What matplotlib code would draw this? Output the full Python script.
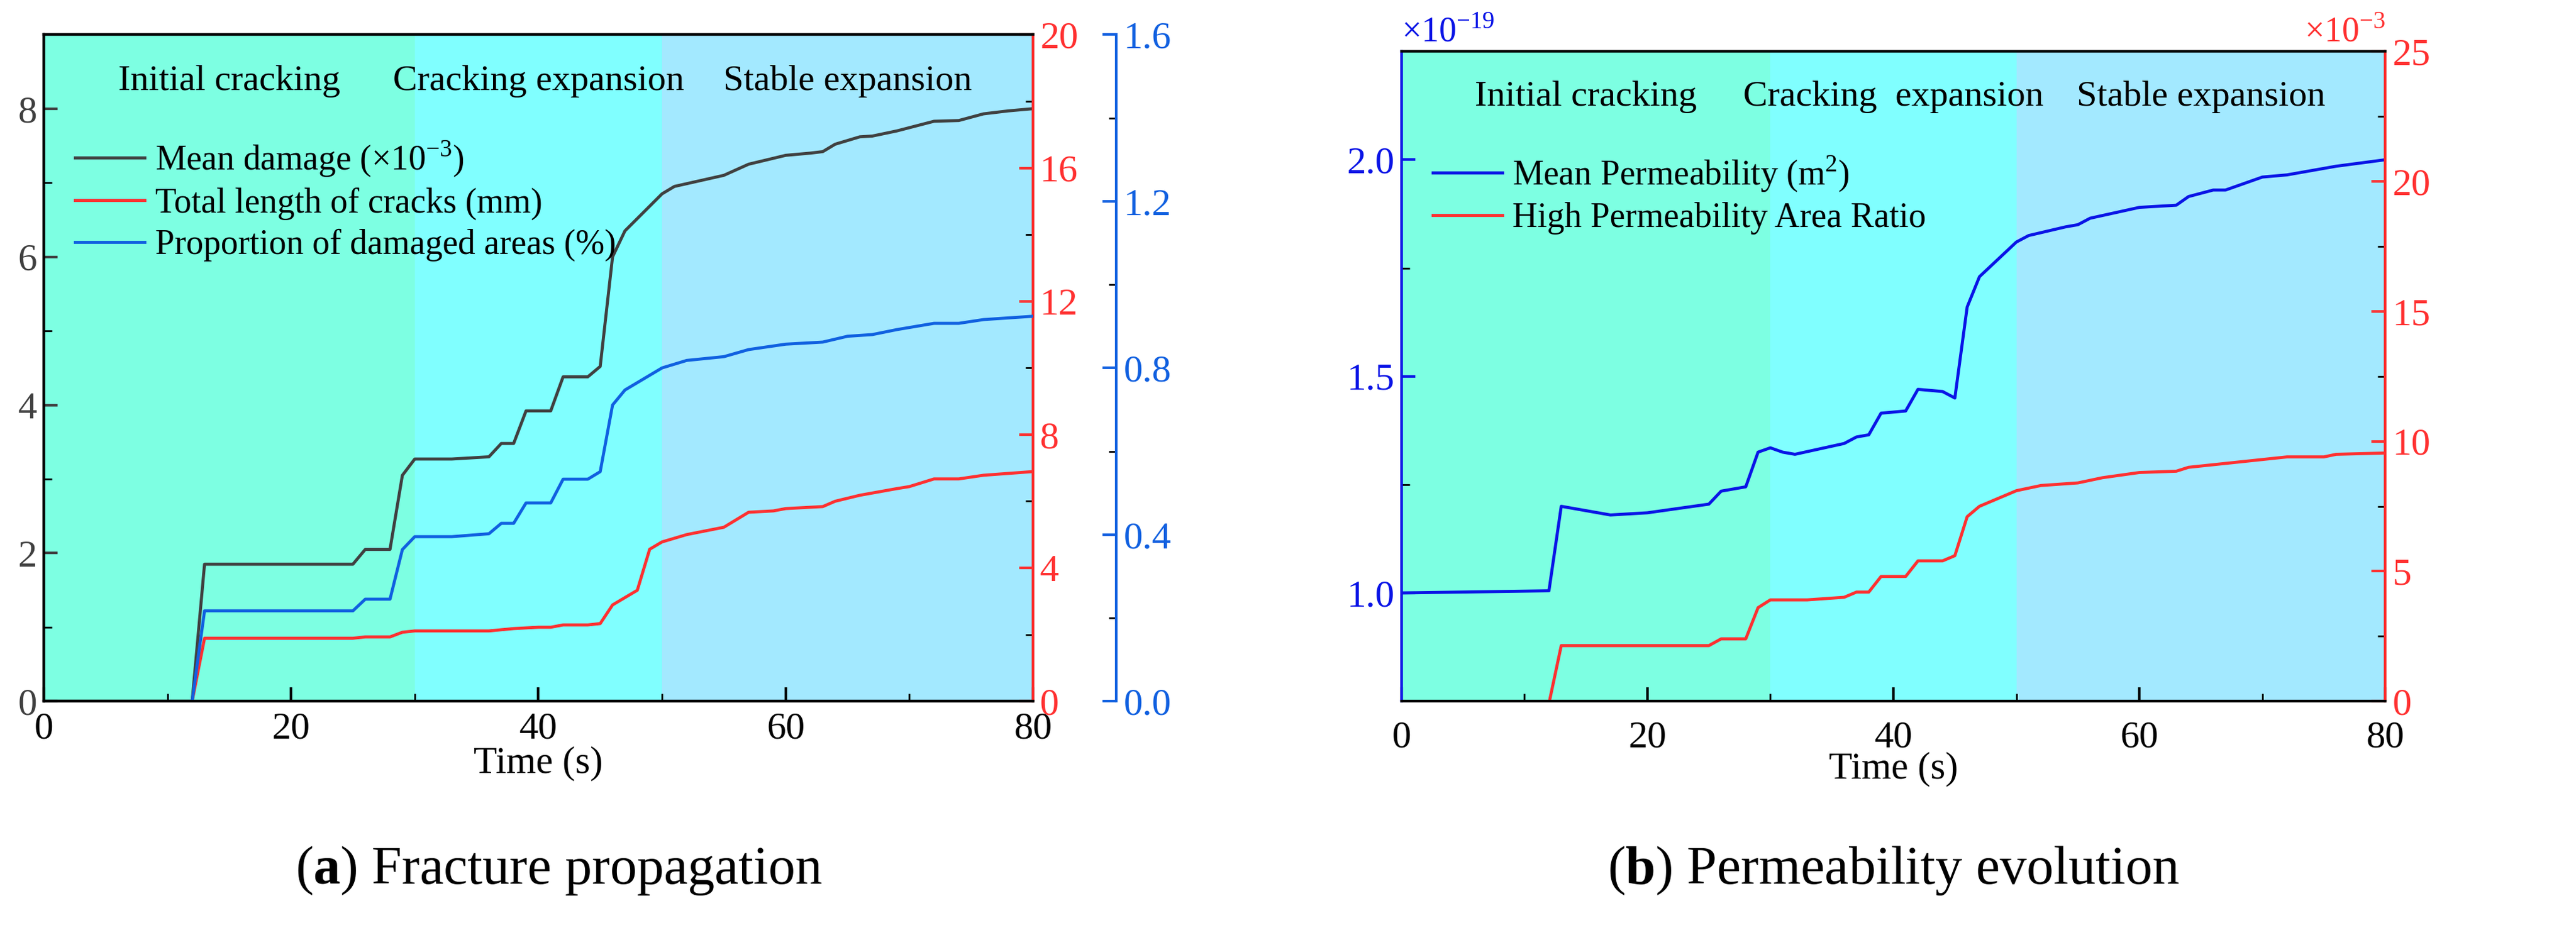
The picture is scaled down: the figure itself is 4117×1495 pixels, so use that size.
import numpy as np
import matplotlib.pyplot as plt
from matplotlib.ticker import MultipleLocator

plt.rcParams['font.family'] = ['Liberation Serif', 'DejaVu Serif']
plt.rcParams['mathtext.fontset'] = 'custom'
plt.rcParams['mathtext.rm'] = 'Liberation Serif'
plt.rcParams['mathtext.bf'] = 'Liberation Serif:bold'
plt.rcParams['font.size'] = 44

# --- (a) fracture propagation ---
t_dmg = [0, 12, 13, 25, 26, 28, 29, 30, 33, 36, 37, 38, 39, 41, 42, 44, 45, 46, 47, 50,
         51, 55, 57, 60, 62, 63, 64, 66, 67, 69, 72, 74, 76, 78, 80]
mean_damage = [0, 0, 1.85, 1.85, 2.05, 2.05, 3.05, 3.27, 3.27, 3.3, 3.48, 3.48, 3.92, 3.92,
               4.38, 4.38, 4.52, 6.0, 6.35, 6.85, 6.95, 7.1, 7.25, 7.37, 7.4, 7.42, 7.52,
               7.62, 7.63, 7.7, 7.83, 7.84, 7.93, 7.97, 8.0]

t_area = [12, 13, 25, 26, 28, 29, 30, 33, 36, 37, 38, 39, 41, 42, 44, 45, 46, 47, 50, 52,
          55, 57, 60, 63, 65, 67, 69, 72, 74, 76, 80]
damaged_area = [0, 0.217, 0.217, 0.245, 0.245, 0.364, 0.395, 0.395, 0.402, 0.427, 0.427,
                0.476, 0.476, 0.533, 0.533, 0.551, 0.711, 0.747, 0.8, 0.818, 0.827, 0.844,
                0.857, 0.862, 0.876, 0.88, 0.892, 0.907, 0.907, 0.916, 0.924]

t_len = [12, 13, 25, 26, 28, 29, 30, 36, 38, 40, 41, 42, 44, 45, 46, 48, 49, 50, 52, 55,
         57, 59, 60, 63, 64, 66, 69, 70, 72, 74, 76, 80]
crack_length = [0, 1.89, 1.89, 1.93, 1.93, 2.07, 2.11, 2.11, 2.18, 2.22, 2.22, 2.29, 2.29,
                2.33, 2.89, 3.33, 4.56, 4.78, 5.0, 5.22, 5.67, 5.71, 5.78, 5.84, 6.0, 6.18,
                6.38, 6.44, 6.67, 6.67, 6.78, 6.89]

# --- (b) permeability evolution ---
t_perm = [0, 12, 13, 17, 20, 25, 26, 28, 29, 30, 31, 32, 36, 37, 38, 39, 41, 42, 44, 45,
          46, 47, 50, 51, 54, 55, 56, 60, 63, 64, 66, 67, 69, 70, 72, 74, 76, 80]
mean_perm = [1.0, 1.005, 1.2, 1.18, 1.185, 1.205, 1.235, 1.245, 1.325, 1.335, 1.325, 1.32,
             1.345, 1.36, 1.365, 1.415, 1.42, 1.47, 1.465, 1.45, 1.66, 1.73, 1.81, 1.825,
             1.845, 1.85, 1.865, 1.89, 1.895, 1.915, 1.93, 1.93, 1.95, 1.96, 1.965, 1.975,
             1.985, 2.0]

t_ratio = [11.5, 13, 25, 26, 28, 29, 30, 33, 36, 37, 38, 39, 41, 42, 44, 45, 46, 47, 50, 52,
           55, 57, 60, 63, 64, 66, 70, 72, 75, 76, 80]
high_ratio = [-1.2, 2.14, 2.14, 2.4, 2.4, 3.6, 3.9, 3.9, 4.0, 4.2, 4.2, 4.8, 4.8, 5.4, 5.4,
              5.6, 7.1, 7.5, 8.1, 8.3, 8.4, 8.6, 8.8, 8.85, 9.0, 9.1, 9.3, 9.4, 9.4, 9.5, 9.55]

stages = ['Initial cracking', 'Cracking expansion', 'Stable expansion']
stage_edges = [0, 30, 50, 80]
stage_colors = ['#7dffe2', '#80ffff', '#a3e9ff']

fig = plt.figure(figsize=(41.17, 14.95), dpi=100)


def shade(ax, labels):
    for i in range(3):
        ax.axvspan(stage_edges[i], stage_edges[i + 1], color=stage_colors[i], lw=0, zorder=0)
        ax.text((stage_edges[i] + stage_edges[i + 1]) / 2, 0.93, labels[i],
                transform=ax.get_xaxis_transform(), ha='center', va='center', fontsize=42)


def style(ax):
    ax.tick_params(direction='in', length=16, width=3, which='major')
    ax.tick_params(direction='in', length=9, width=2, which='minor')
    for s in ax.spines.values():
        s.set_linewidth(3)


# (a)
ax1 = fig.add_axes([0.017, 0.25, 0.384, 0.713])
shade(ax1, stages)
ax1.plot(t_dmg, mean_damage, color='#404040', lw=3.5)
ax1.set_xlim(0, 80)
ax1.set_ylim(0, 9)
ax1.xaxis.set_major_locator(MultipleLocator(20))
ax1.xaxis.set_minor_locator(MultipleLocator(10))
ax1.yaxis.set_major_locator(MultipleLocator(2))
ax1.yaxis.set_minor_locator(MultipleLocator(1))
ax1.set_xlabel('Time (s)', fontsize=44, labelpad=0)
ax1.tick_params(axis='x', pad=12)
ax1.tick_params(axis='y', colors='#404040', labelcolor='#404040', pad=8)
style(ax1)

ax2 = ax1.twinx()
ax2.plot(t_len, crack_length, color='#ff3030', lw=3.5)
ax2.set_ylim(0, 20)
ax2.yaxis.set_major_locator(MultipleLocator(4))
ax2.yaxis.set_minor_locator(MultipleLocator(2))
style(ax2)
ax2.tick_params(axis='y', colors='#ff3030', pad=8)
ax2.spines['right'].set_color('#ff3030')

ax3 = ax1.twinx()
ax3.plot(t_area, damaged_area, color='#1060e0', lw=3.5)
ax3.set_ylim(0, 1.6)
ax3.yaxis.set_major_locator(MultipleLocator(0.4))
ax3.yaxis.set_minor_locator(MultipleLocator(0.2))
ax3.yaxis.set_major_formatter(plt.FormatStrFormatter('%.1f'))
ax3.spines['right'].set_position(('outward', 96))
style(ax3)
ax3.tick_params(axis='y', colors='#1060e0', pad=8)
ax3.spines['right'].set_color('#1060e0')

handles = [plt.Line2D([], [], color='#404040', lw=3.5),
           plt.Line2D([], [], color='#ff3030', lw=3.5),
           plt.Line2D([], [], color='#1060e0', lw=3.5)]
ax1.legend(handles, [r'Mean damage (×10$^{-3}$)', 'Total length of cracks (mm)',
                     'Proportion of damaged areas (%)'],
           loc='upper left', bbox_to_anchor=(0.0, 0.89), frameon=False, fontsize=40,
           handlelength=2.0, handletextpad=0.3, labelspacing=0.25)

fig.text(0.217, 0.055, r'($\mathbf{a}$) Fracture propagation', ha='center', fontsize=62)

# (b)
bx1 = fig.add_axes([0.544, 0.25, 0.382, 0.695])
shade(bx1, ['Initial cracking', 'Cracking  expansion', 'Stable expansion'])
bx1.plot(t_perm, mean_perm, color='#0a14e6', lw=3.5)
bx1.set_xlim(0, 80)
bx1.set_ylim(0.75, 2.25)
bx1.xaxis.set_major_locator(MultipleLocator(20))
bx1.xaxis.set_minor_locator(MultipleLocator(10))
bx1.yaxis.set_major_locator(MultipleLocator(0.5))
bx1.yaxis.set_minor_locator(MultipleLocator(0.25))
bx1.yaxis.set_major_formatter(plt.FormatStrFormatter('%.1f'))
bx1.set_xlabel('Time (s)', fontsize=44, labelpad=-4)
bx1.tick_params(axis='x', pad=22)
style(bx1)
bx1.tick_params(axis='y', colors='#0a14e6', pad=8)
bx1.spines['left'].set_color('#0a14e6')
bx1.text(0.0, 1.015, r'×10$^{-19}$', transform=bx1.transAxes, color='#0a14e6', fontsize=40)

bx2 = bx1.twinx()
bx2.plot(t_ratio, high_ratio, color='#ff3030', lw=3.5)
bx2.set_ylim(0, 25)
bx2.yaxis.set_major_locator(MultipleLocator(5))
bx2.yaxis.set_minor_locator(MultipleLocator(2.5))
style(bx2)
bx2.tick_params(axis='y', colors='#ff3030', pad=8)
bx2.spines['right'].set_color('#ff3030')
bx2.spines['left'].set_color('#0a14e6')
bx2.text(1.0, 1.015, r'×10$^{-3}$', transform=bx2.transAxes, color='#ff3030',
         fontsize=40, ha='right')

bx1.legend([plt.Line2D([], [], color='#0a14e6', lw=3.5), plt.Line2D([], [], color='#ff3030', lw=3.5)],
           [r'Mean Permeability (m$^{2}$)', 'High Permeability Area Ratio'],
           loc='upper left', bbox_to_anchor=(0.0, 0.89), frameon=False, fontsize=40,
           handlelength=2.0, handletextpad=0.3, labelspacing=0.25)

fig.text(0.735, 0.055, r'($\mathbf{b}$) Permeability evolution', ha='center', fontsize=62)

fig.savefig('out.png', dpi=100)
